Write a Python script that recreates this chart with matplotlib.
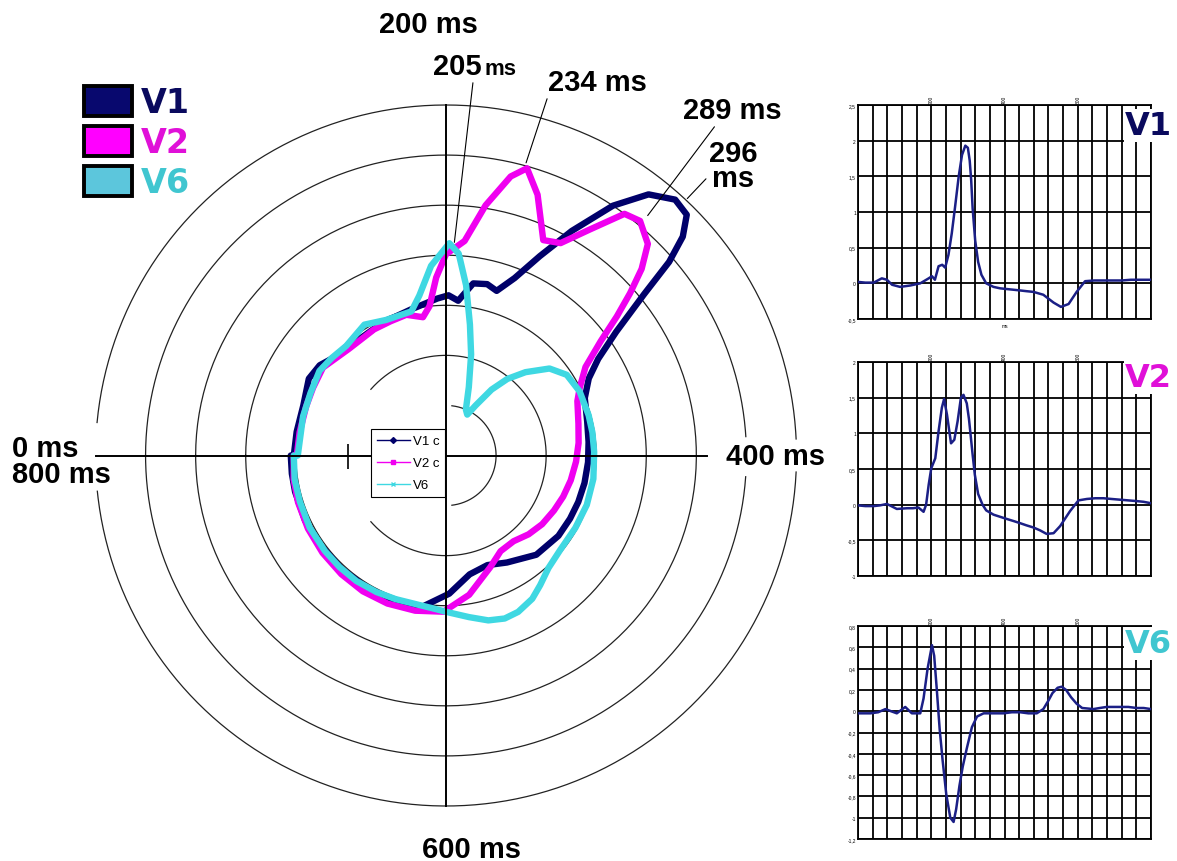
import matplotlib.pyplot as plt
import numpy as np
from matplotlib.lines import Line2D
from matplotlib.patches import Patch
from matplotlib.ticker import FuncFormatter

W, H = 1177, 862

v1_t = [0, 20, 43, 65, 79, 93, 115, 143, 170, 193, 202, 210, 220, 230, 238, 247,
        256, 265, 275, 284, 293, 300, 305, 309, 313, 320, 328, 337, 350, 370, 388,
        406, 425, 443, 460, 479, 506, 534, 554, 575, 597, 620, 645, 670, 695, 720,
        745, 770, 785, 800]
v1_v = [0.02, 0.01, 0.01, 0.07, 0.05, -0.02, -0.05, -0.03, 0.0, 0.07, 0.1, 0.05,
        0.24, 0.26, 0.22, 0.4, 0.7, 1.07, 1.5, 1.8, 1.93, 1.9, 1.72, 1.45, 1.05,
        0.6, 0.3, 0.12, 0.0, -0.05, -0.07, -0.08, -0.09, -0.1, -0.11, -0.12, -0.16,
        -0.27, -0.33, -0.29, -0.12, 0.03, 0.04, 0.04, 0.04, 0.04, 0.05, 0.05, 0.05,
        0.05]

v2_t = [0, 20, 43, 60, 79, 106, 134, 150, 165, 179, 186, 193, 200, 211, 220, 229,
        235, 243, 254, 263, 272, 281, 288, 297, 303, 308, 313, 319, 328, 340, 350,
        370, 388, 406, 425, 443, 460, 479, 497, 515, 534, 552, 579, 602, 625, 648,
        670, 692, 715, 738, 761, 780, 800]
v2_v = [-0.01, -0.02, -0.02, -0.01, 0.01, -0.06, -0.05, -0.05, -0.04, -0.1, 0.0,
        0.28, 0.51, 0.65, 1.03, 1.36, 1.48, 1.26, 0.86, 0.91, 1.17, 1.5, 1.54, 1.42,
        1.2, 0.95, 0.7, 0.42, 0.15, 0.0, -0.08, -0.14, -0.17, -0.2, -0.23, -0.26,
        -0.29, -0.32, -0.36, -0.41, -0.4, -0.3, -0.09, 0.06, 0.08, 0.09, 0.09, 0.08,
        0.07, 0.06, 0.05, 0.04, 0.02]

v6_t = [0, 34, 55, 75, 90, 106, 129, 147, 170, 179, 190, 202, 208, 215, 223, 231,
        241, 252, 261, 268, 277, 286, 297, 311, 325, 343, 365, 380, 397, 420, 443,
        465, 488, 506, 520, 531, 545, 556, 568, 582, 597, 612, 643, 660, 679, 697,
        715, 738, 761, 780, 800]
v6_v = [-0.02, -0.02, -0.01, 0.02, 0.0, -0.02, 0.04, -0.02, -0.02, 0.12, 0.4, 0.62,
        0.52, 0.21, -0.17, -0.46, -0.78, -1.0, -1.04, -0.92, -0.7, -0.52, -0.35,
        -0.15, -0.05, -0.02, -0.02, -0.02, -0.02, -0.01, -0.01, -0.02, -0.02, 0.02,
        0.1, 0.17, 0.22, 0.23, 0.2, 0.13, 0.07, 0.03, 0.02, 0.03, 0.04, 0.04, 0.04,
        0.04, 0.03, 0.03, 0.02]

lead_names = ["V1", "V2", "V6"]
loop_names = ["V1 c", "V2 c", "V6"]
panel_ylims = [(-0.5, 2.5), (-1.0, 2.0), (-1.2, 0.8)]
panel_steps = [0.5, 0.5, 0.2]

# annotated instants (ms) and the loop radius they point at
ann_ms = [205, 234, 289, 296]
ann_r = [2.13, 3.03, 3.13, 3.52]

NAVY = "#00006a"
MAGENTA = "#f000f0"
CYAN = "#3fd8e2"
TRACE = "#1b1f86"
loop_colors = [NAVY, MAGENTA, CYAN]
swatch_colors = ["#08086e", "#ff00ff", "#5cc6dc"]
label_colors = ["#0a0a5e", "#e010d8", "#40c6d0"]

plt.rcParams["font.family"] = ["Liberation Sans", "DejaVu Sans"]


def fx(x):
    return x / W


def fy(y):
    return 1 - y / H


def theta(t):
    return 2 * np.pi * np.asarray(t, dtype=float) / 800.0


fig = plt.figure(figsize=(W / 100, H / 100), dpi=100)

# ---- polar loop plot ----
ax = fig.add_axes([fx(95.5), fy(807), 701 / W, 701 / H], projection="polar")
ax.set_theta_zero_location("W")
ax.set_theta_direction(-1)
ax.set_ylim(0, 3.5)
ax.set_xticks([])
ax.set_yticks([])
ax.grid(False)
ax.spines["polar"].set_visible(False)

ring_spans = {
    0.5: [(215, 585)],
    1.0: [(92, 708)],
    1.5: [(0, 800)],
    2.0: [(0, 800)],
    2.5: [(0, 800)],
    3.0: [(0, 392), (409, 800)],
    3.5: [(12, 394), (406, 787)],
}
for r, spans in ring_spans.items():
    for a, b in spans:
        tt = np.linspace(a, b, 300)
        ax.plot(theta(tt), np.full_like(tt, r), color="#222222", lw=0.9,
                zorder=1, clip_on=False)

for t, v, c in zip([v1_t, v2_t, v6_t], [v1_v, v2_v, v6_v], loop_colors):
    ax.plot(theta(t), 1.5 + np.array(v), color=c, lw=4.6, zorder=3,
            solid_joinstyle="round", solid_capstyle="round")

# cross hair axes
for t_ax, r_end in [(0, 3.5), (400, 2.61), (200, 3.5), (600, 3.5)]:
    ax.plot(theta([t_ax, t_ax]), [0, r_end], color="black", lw=1.4, zorder=5,
            clip_on=False)
ax.plot(theta([0]), [0.98], marker="|", ms=18, mew=1.2, color="black", zorder=5)

bold = dict(fontsize=21, fontweight="bold")
line_kw = dict(arrowstyle="-", color="black", lw=0.8, shrinkA=0, shrinkB=0)

ax.annotate("205", xy=(theta(ann_ms[0]), ann_r[0]), xytext=(482, H - 75),
            textcoords="figure pixels", ha="right", va="baseline",
            annotation_clip=False,
            arrowprops=dict(relpos=(0.82, 0), **line_kw), **bold)
fig.text(fx(485), fy(75), "ms", fontsize=16, fontweight="bold", va="baseline")
ax.annotate("234 ms", xy=(theta(ann_ms[1]), ann_r[1]), xytext=(548, H - 91),
            textcoords="figure pixels", ha="left", va="baseline",
            annotation_clip=False,
            arrowprops=dict(relpos=(0.0, 0), **line_kw), **bold)
ax.annotate("289 ms", xy=(theta(ann_ms[2]), ann_r[2]), xytext=(683, H - 119),
            textcoords="figure pixels", ha="left", va="baseline",
            annotation_clip=False,
            arrowprops=dict(relpos=(0.34, 0), **line_kw), **bold)
ax.annotate("296\nms", xy=(theta(ann_ms[3]), ann_r[3]), xytext=(733, H - 140),
            textcoords="figure pixels", ha="center", va="top",
            multialignment="center", linespacing=0.85,
            annotation_clip=False,
            arrowprops=dict(relpos=(0.0, 0.3), **line_kw), **bold)

fig.text(fx(428), fy(33), "200 ms", ha="center", va="baseline", **bold)
fig.text(fx(12), fy(457), "0 ms", ha="left", va="baseline", **bold)
fig.text(fx(12), fy(483), "800 ms", ha="left", va="baseline", **bold)
fig.text(fx(726), fy(465), "400 ms", ha="left", va="baseline", **bold)
fig.text(fx(422), fy(858), "600 ms", ha="left", va="baseline", **bold)

# legend inside the loop plot
loop_handles = [
    Line2D([], [], color=NAVY, lw=1, marker="D", ms=3),
    Line2D([], [], color=MAGENTA, lw=1, marker="s", ms=3.5),
    Line2D([], [], color=CYAN, lw=1, marker="x", ms=3.5),
]
leg2 = fig.legend(loop_handles, loop_names, loc="upper left",
                  bbox_to_anchor=(fx(371), fy(430)), fontsize=9.5, frameon=True,
                  fancybox=False, edgecolor="black", framealpha=1,
                  borderaxespad=0, borderpad=0.45, handlelength=2.5,
                  handletextpad=0.2, labelspacing=0.75)
leg2.get_frame().set_linewidth(0.8)

# colour key top left
lead_handles = [Patch(facecolor=c, edgecolor="black", linewidth=2.8)
                for c in swatch_colors]
leg1 = fig.legend(lead_handles, lead_names, loc="upper left",
                  bbox_to_anchor=(fx(84), fy(87)), frameon=False,
                  prop=dict(family="DejaVu Sans", weight="bold", size=24),
                  handlelength=1.45, handleheight=1.0, handletextpad=0.25,
                  labelspacing=0.2, borderpad=0, borderaxespad=0)
for txt, c in zip(leg1.get_texts(), label_colors):
    txt.set_color(c)

# ---- lead panels ----
panel_boxes = [(106, 320), (363, 577), (627, 840)]
name_baselines = [135, 387, 653]
comma = FuncFormatter(
    lambda v, pos: f"{round(v, 2):g}".replace(".", ",") if abs(v) > 1e-9 else "0")

for i, (t, v) in enumerate(zip([v1_t, v2_t, v6_t], [v1_v, v2_v, v6_v])):
    top, bot = panel_boxes[i]
    pax = fig.add_axes([fx(858), fy(bot), 293 / W, (bot - top) / H])
    pax.plot(t, v, color=TRACE, lw=1.8, zorder=3)
    lo, hi = panel_ylims[i]
    pax.set_xlim(0, 800)
    pax.set_ylim(lo, hi)
    xt = np.arange(0, 801, 40)
    pax.set_xticks(xt)
    pax.set_xticklabels([str(x) if x in (200, 400, 600) else "" for x in xt],
                        rotation=90)
    pax.set_yticks(np.round(np.arange(lo, hi + 1e-9, panel_steps[i]), 2))
    pax.yaxis.set_major_formatter(comma)
    pax.xaxis.tick_top()
    pax.tick_params(labelsize=3.5, length=0, pad=1.5)
    pax.grid(True, color="black", lw=1.3)
    for s in pax.spines.values():
        s.set_linewidth(1.3)
    if i == 0:
        pax.set_xlabel("ms", fontsize=3.5, labelpad=3)
    fig.text(fx(1125), fy(name_baselines[i]), lead_names[i], color=label_colors[i],
             family="DejaVu Sans", fontsize=23, fontweight="bold", va="baseline",
             bbox=dict(facecolor="white", edgecolor="none", pad=0.5))

fig.savefig("out.png", dpi=100)
